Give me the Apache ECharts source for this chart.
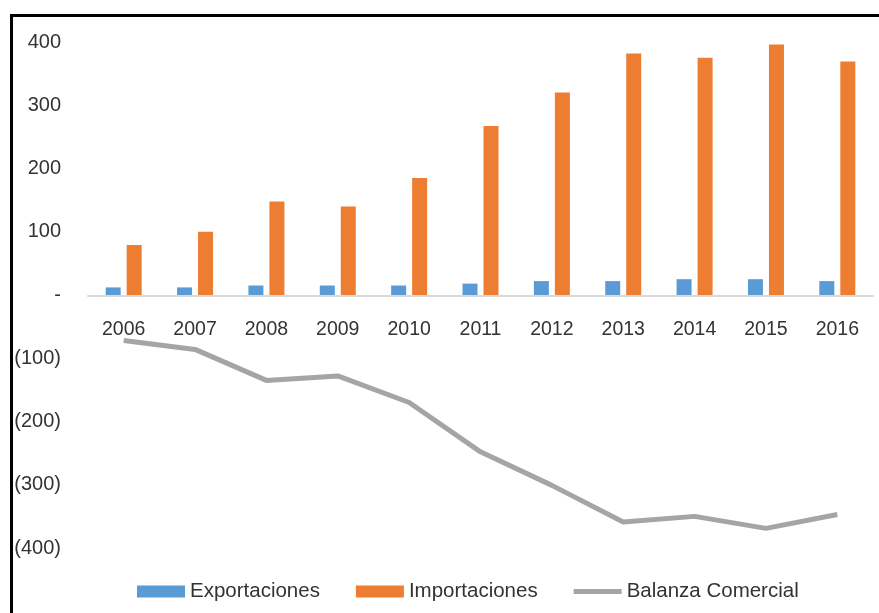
<!DOCTYPE html>
<html>
<head>
<meta charset="utf-8">
<script src="https://cdn.jsdelivr.net/npm/echarts@6/dist/echarts.min.js"></script>
<style>
html,body{margin:0;padding:0;background:#fff;}
#frame{position:absolute;left:10px;top:14px;width:900px;height:700px;border:3px solid #000;box-sizing:border-box;}
#chart{position:absolute;left:0;top:0;width:879px;height:613px;}
</style>
</head>
<body>
<div id="frame"></div>
<div id="chart"></div>
<script>
const years = ['2006','2007','2008','2009','2010','2011','2012','2013','2014','2015','2016'];
const exportaciones = [12, 12, 15, 15, 15, 18, 22, 22, 25, 25, 22];
const importaciones = [79, 100, 148, 140, 185, 267, 320, 382, 375, 396, 369];
const balanza = [-72, -86, -135, -128, -170, -248, -301, -359, -350, -369, -347];

const FONT = 'Liberation Sans';
const chart = echarts.init(document.getElementById('chart'));
chart.setOption({
  animation: false,
  textStyle: {fontFamily: FONT},
  grid: {left: 88, right: 6, top: 42, bottom: 65},
  legend: {
    left: 132, top: 576,
    itemWidth: 48, itemHeight: 12, itemGap: 36,
    symbolKeepAspect: true,
    textStyle: {fontFamily: FONT, fontSize: 20.5, color: '#333333', padding: [0,0,0,0]},
    data: [
      {name: 'Exportaciones', icon: 'rect'},
      {name: 'Importaciones', icon: 'rect'},
      {name: 'Balanza Comercial', icon: 'path://M0,0L48,0L48,5L0,5Z'}
    ]
  },
  xAxis: {
    type: 'category',
    data: years,
    offset: -252,
    axisLine: {onZero: false, lineStyle: {color: '#D9D9D9', width: 2}},
    axisTick: {show: false},
    axisLabel: {fontFamily: FONT, fontSize: 19.5, color: '#333333', margin: 24}
  },
  yAxis: {
    type: 'value',
    min: -400, max: 400, interval: 100,
    splitLine: {show: false},
    axisLine: {show: false},
    axisTick: {show: false},
    axisLabel: {
      fontFamily: FONT, fontSize: 20, color: '#333333', margin: 27,
      formatter: v => v === 0 ? '-' : (v < 0 ? '(' + (-v) + ')' : String(v))
    }
  },
  series: [
    {name: 'Exportaciones', type: 'bar', data: exportaciones, barWidth: 15, barGap: '40%',
     itemStyle: {color: '#5B9BD5'}},
    {name: 'Importaciones', type: 'bar', data: importaciones, barWidth: 15, barGap: '40%',
     itemStyle: {color: '#ED7D31'}},
    {name: 'Balanza Comercial', type: 'line', data: balanza, symbol: 'none',
     lineStyle: {color: '#A5A5A5', width: 5}, itemStyle: {color: '#A5A5A5'}}
  ]
});
</script>
</body>
</html>
